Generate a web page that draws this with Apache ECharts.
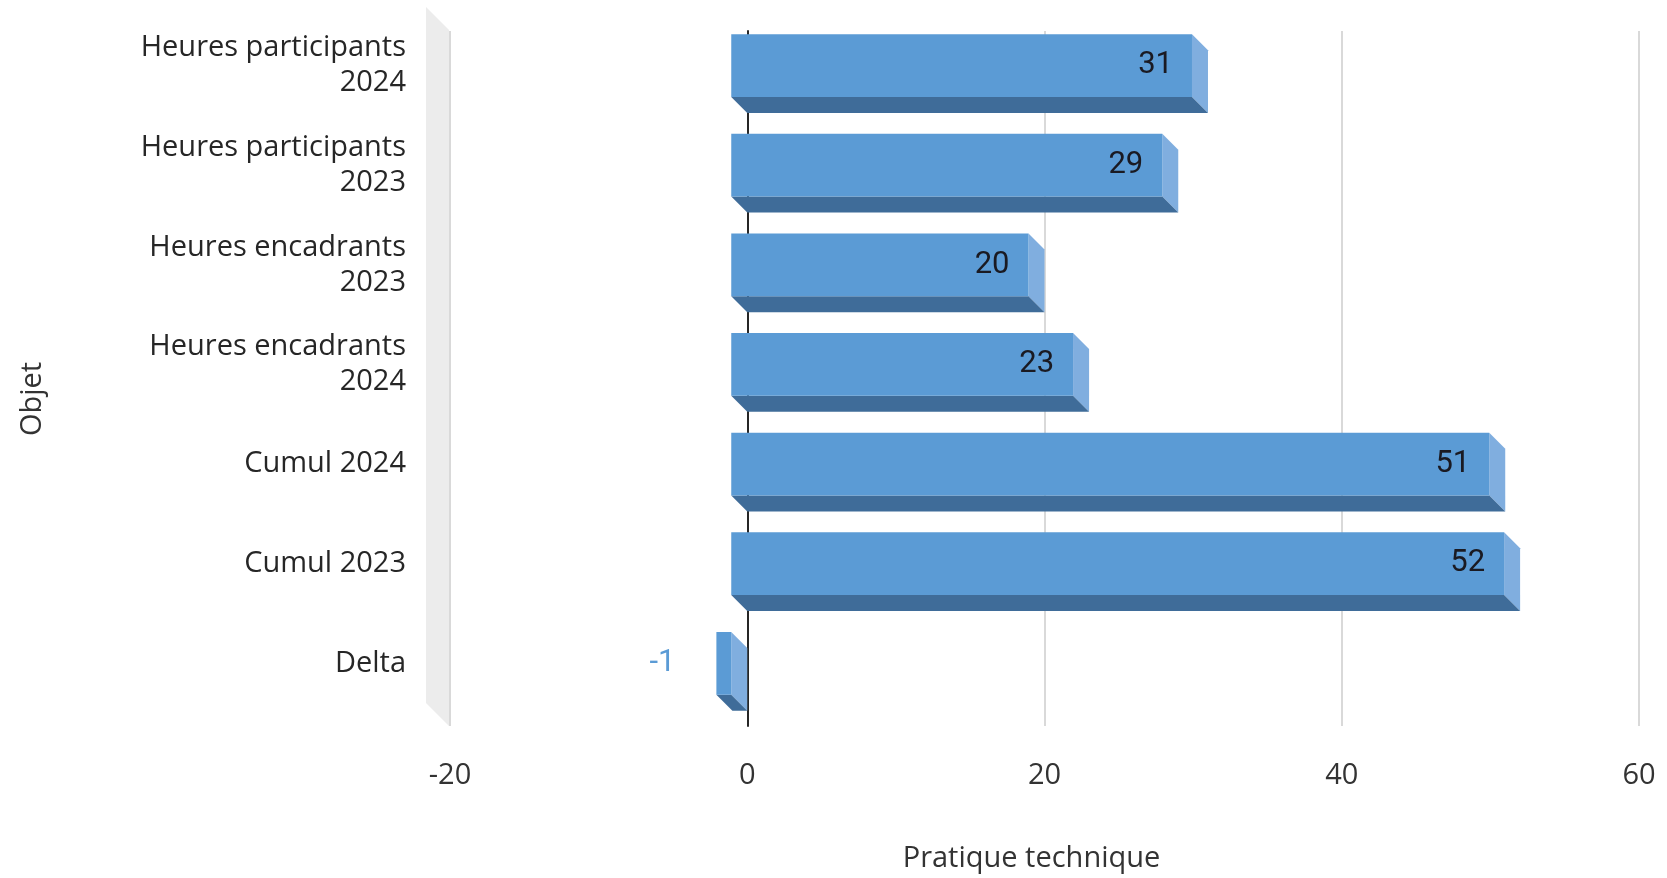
<!DOCTYPE html>
<html>
<head>
<meta charset="utf-8">
<script src="https://cdn.jsdelivr.net/npm/echarts@6/dist/echarts.min.js"></script>
<style>
html,body{margin:0;padding:0;background:#fff;}
#c{width:1667px;height:878px;}
</style>
</head>
<body>
<div id="c"></div>
<script>
const categories = [
  "Heures participants\n2024",
  "Heures participants\n2023",
  "Heures encadrants\n2023",
  "Heures encadrants\n2024",
  "Cumul 2024",
  "Cumul 2023",
  "Delta"
];
const values = [31, 29, 20, 23, 51, 52, -1];
const xMin = -20, xMax = 60, xStep = 20;
const xTitle = "Pratique technique";
const yTitle = "Objet";

const DEPTH = 16;      // bar depth (px)
const WALL = 24;       // wall depth (px)
const FRONT = '#5B9BD5', SIDE = '#80AEDF', BOTTOM = '#3F6C99';
const FONT = '"Open Sans", "Noto Sans", sans-serif';

const chart = echarts.init(document.getElementById('c'));

function barItem(params, api) {
  const v = api.value(0), i = api.value(1);
  const p0 = api.coord([0, i]);
  const p1 = api.coord([v, i]);
  const h = api.size([0, 1])[1] * 0.63;
  const xa = Math.min(p0[0], p1[0]), xb = Math.max(p0[0], p1[0]);
  const top = p0[1] - h / 2, bot = top + h, d = DEPTH;
  const children = [
    { type: 'polygon', shape: { points: [[xb, top], [xb + d, top + d], [xb + d, bot + d], [xb, bot]] },
      style: { fill: SIDE } },
    { type: 'polygon', shape: { points: [[xa, bot], [xb, bot], [xb + d, bot + d], [xa + d, bot + d]] },
      style: { fill: BOTTOM } },
    { type: 'rect', shape: { x: xa, y: top, width: xb - xa, height: h },
      style: { fill: FRONT } }
  ];
  if (v >= 0) {
    children.push({ type: 'text', x: xb - 19, y: p0[1],
      style: { text: String(v), align: 'right', verticalAlign: 'middle',
        font: '31px Roboto, sans-serif', fill: '#1a1a22' } });
  } else {
    children.push({ type: 'text', x: xa - 41, y: p0[1],
      style: { text: String(v), align: 'right', verticalAlign: 'middle',
        font: '31px Roboto, sans-serif', fill: '#5B9BD5' } });
  }
  return { type: 'group', children };
}

function wallItem(params, api) {
  const cs = params.coordSys;
  const x = cs.x, y = cs.y, h = cs.height;
  return {
    type: 'polygon',
    shape: { points: [[x - WALL, y - WALL], [x - 1, y - 1], [x - 1, y + h], [x - WALL, y + h - WALL + 1]] },
    style: { fill: '#ececec' }
  };
}

chart.setOption({
  animation: false,
  backgroundColor: '#ffffff',
  grid: [
    { left: 450, right: 28, top: 31, bottom: 138 },
    { left: 434, right: 44, top: 15.7, bottom: 164.8 }
  ],
  xAxis: [
    { type: 'value', gridIndex: 0, min: xMin, max: xMax, interval: xStep,
      axisLine: { show: false }, axisTick: { show: false },
      axisLabel: { fontSize: 29, fontFamily: FONT, color: '#333', margin: 35 },
      splitLine: { show: true, lineStyle: { color: '#d9d9d9', width: 2 } },
      name: xTitle, nameLocation: 'middle', nameGap: 118,
      nameTextStyle: { fontSize: 29, fontFamily: FONT, color: '#333', padding: [0, 26, 0, 0] } },
    { type: 'value', gridIndex: 1, min: xMin, max: xMax, interval: xStep, show: false }
  ],
  yAxis: [
    { type: 'category', gridIndex: 0, data: categories, inverse: true,
      axisLine: { show: true, onZero: true, lineStyle: { color: '#262626', width: 2 } },
      axisTick: { show: false }, axisLabel: { show: false }, splitLine: { show: false } },
    { type: 'category', gridIndex: 1, data: categories, inverse: true,
      axisLine: { show: false }, axisTick: { show: false },
      axisLabel: { fontSize: 29, fontFamily: FONT, color: '#262626', margin: 28,
        align: 'right', lineHeight: 35 } }
  ],
  graphic: [
    { type: 'text', x: 33, y: 399, rotation: Math.PI / 2,
      style: { text: yTitle, font: '29px ' + FONT, fill: '#333', align: 'center', verticalAlign: 'middle' } }
  ],
  series: [
    { type: 'custom', xAxisIndex: 0, yAxisIndex: 0, silent: true, z: 0,
      renderItem: wallItem, data: [[xMin, 0]] },
    { type: 'custom', xAxisIndex: 1, yAxisIndex: 1, z: 3,
      renderItem: barItem, encode: { x: 0, y: 1 },
      data: values.map((v, i) => [v, i]) }
  ]
});
</script>
</body>
</html>
